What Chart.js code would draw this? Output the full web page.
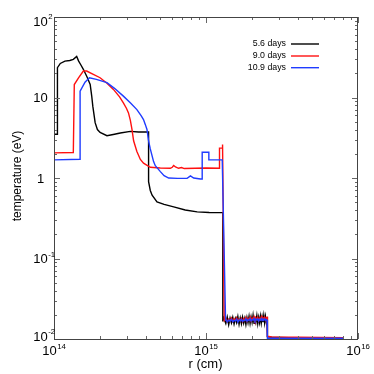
<!DOCTYPE html>
<html>
<head>
<meta charset="utf-8">
<script src="https://cdn.jsdelivr.net/npm/chart.js@4.4.0/dist/chart.umd.min.js"></script>
<style>body{margin:0;background:#fff}</style>
</head>
<body>
<canvas id="c" width="374" height="374"></canvas>
<script>
// temperature profiles (r in cm, T in eV)
const labels = ['5.6 days', '9.0 days', '10.9 days'];
const colors = ['#000000', '#ff1010', '#1f3cff'];

const blackR = [1.00e14, 1.047e14, 1.047e14, 1.06e14, 1.10e14, 1.18e14, 1.27e14, 1.34e14, 1.41e14, 1.45e14, 1.50e14, 1.56e14, 1.65e14, 1.73e14, 1.77e14, 1.80e14, 1.865e14, 1.93e14, 2.01e14, 2.23e14, 2.50e14, 2.73e14, 3.18e14, 3.60e14, 4.19e14, 4.19e14, 4.30e14, 4.42e14, 4.76e14, 5.30e14, 6.13e14, 7.30e14, 8.75e14, 1.05e15, 1.29e15, 1.29e15, 1.305e15];
const blackT = [3.5, 3.5, 21, 23.5, 26.5, 28.3, 28.8, 29.8, 32.3, 28.5, 25.5, 22.4, 18, 14.5, 10.5, 7.8, 4.87, 4.0, 3.68, 3.35, 3.5, 3.62, 3.79, 3.72, 3.73, 0.90, 0.70, 0.61, 0.506, 0.47, 0.438, 0.40, 0.379, 0.373, 0.372, 0.0165, 0.0185];
const blackTailR = [2.535e15, 2.535e15, 2.70e15, 3.5e15, 8.08e15];
const blackTailT = [0.0178, 0.0107, 0.0105, 0.0104, 0.0104];

const redR = [1.00e14, 1.34e14, 1.36e14, 1.45e14, 1.56e14, 1.64e14, 1.80e14, 2.01e14, 2.23e14, 2.46e14, 2.70e14, 2.86e14, 3.00e14, 3.09e14, 3.18e14, 3.26e14, 3.34e14, 3.51e14, 3.70e14, 3.88e14, 4.30e14, 5.00e14, 5.83e14, 6.00e14, 6.13e14, 6.30e14, 6.60e14, 6.90e14, 7.20e14, 8.50e14, 1.00e15, 1.227e15, 1.227e15, 1.275e15, 1.28e15, 1.29e15, 1.318e15];
const redT = [2.05, 2.07, 14.5, 17.5, 21.3, 21.3, 19.5, 17.6, 15.0, 12.6, 10.2, 8.59, 7.3, 6.44, 5.2, 3.98, 2.9, 2.13, 1.70, 1.53, 1.36, 1.33, 1.32, 1.36, 1.43, 1.37, 1.32, 1.35, 1.31, 1.32, 1.33, 1.32, 2.35, 2.35, 2.6, 2.6, 0.0175];
const redTailR = [2.535e15, 2.535e15, 2.70e15, 4.0e15, 8.08e15];
const redTailT = [0.0190, 0.0108, 0.0106, 0.0105, 0.0104];

const blueR = [1.00e14, 1.485e14, 1.485e14, 1.60e14, 1.71e14, 1.90e14, 2.23e14, 2.50e14, 2.86e14, 3.20e14, 3.51e14, 3.75e14, 3.88e14, 3.99e14, 4.09e14, 4.19e14, 4.30e14, 4.52e14, 4.64e14, 5.01e14, 5.30e14, 5.68e14, 6.50e14, 7.51e14, 7.90e14, 8.30e14, 9.20e14, 9.44e14, 9.44e14, 1.044e15, 1.044e15, 1.279e15, 1.345e15];
const blueT = [1.68, 1.71, 12.0, 15.5, 17.6, 16.8, 15.3, 13.0, 10.4, 8.5, 7.08, 5.9, 5.31, 4.6, 4.0, 2.9, 2.3, 1.6, 1.42, 1.2, 1.07, 1.0, 0.99, 0.99, 1.06, 1.0, 0.97, 0.97, 2.09, 2.09, 1.68, 1.68, 0.0172];
const blueTailR = [2.535e15, 2.535e15, 8.08e15];
const blueTailT = [0.0172, 0.0102, 0.0102];

// the noisy cold shell between ~1.3e15 and 2.5e15
const bandR = [1.32e15, 1.35e15, 1.38e15, 1.41e15, 1.44e15, 1.47e15, 1.50e15, 1.53e15, 1.56e15, 1.59e15, 1.62e15, 1.65e15, 1.68e15, 1.71e15, 1.74e15, 1.77e15, 1.80e15, 1.83e15, 1.86e15, 1.89e15, 1.92e15, 1.95e15, 1.98e15, 2.01e15, 2.04e15, 2.07e15, 2.10e15, 2.13e15, 2.16e15, 2.19e15, 2.22e15, 2.25e15, 2.28e15, 2.31e15, 2.34e15, 2.37e15, 2.40e15, 2.43e15, 2.46e15, 2.49e15, 2.52e15];
const blackBand = [0.0175, 0.0156, 0.0188, 0.0150, 0.0182, 0.0158, 0.0186, 0.0153, 0.0180, 0.0160, 0.0190, 0.0152, 0.0183, 0.0155, 0.0187, 0.0158, 0.0181, 0.0151, 0.0185, 0.0159, 0.0192, 0.0156, 0.0188, 0.0161, 0.0197, 0.0157, 0.0190, 0.0163, 0.0195, 0.0155, 0.0186, 0.0160, 0.0192, 0.0158, 0.0189, 0.0162, 0.0196, 0.0159, 0.0191, 0.0164, 0.0187];
const redBand = [0.0170, 0.0180, 0.0164, 0.0176, 0.0168, 0.0182, 0.0165, 0.0178, 0.0170, 0.0184, 0.0166, 0.0177, 0.0169, 0.0181, 0.0164, 0.0179, 0.0171, 0.0185, 0.0167, 0.0180, 0.0172, 0.0187, 0.0168, 0.0182, 0.0175, 0.0189, 0.0170, 0.0183, 0.0174, 0.0186, 0.0169, 0.0181, 0.0176, 0.0188, 0.0171, 0.0184, 0.0177, 0.0186, 0.0172, 0.0183, 0.0178];
const blueBand = [0.0168, 0.0175, 0.0163, 0.0172, 0.0166, 0.0176, 0.0164, 0.0171, 0.0167, 0.0177, 0.0162, 0.0173, 0.0168, 0.0176, 0.0165, 0.0172, 0.0169, 0.0178, 0.0166, 0.0174, 0.0170, 0.0179, 0.0167, 0.0175, 0.0171, 0.0180, 0.0168, 0.0176, 0.0172, 0.0178, 0.0167, 0.0175, 0.0171, 0.0179, 0.0169, 0.0176, 0.0173, 0.0178, 0.0170, 0.0175, 0.0172];

// tick labels
const xTicks = [1e14, 1e15, 1e16];
const xTickExp = ['14', '15', '16'];
const yTicks = [1e-2, 1e-1, 1, 10, 100];
const yTickBase = ['10', '10', '1', '10', '10'];
const yTickExp = ['-2', '-1', '', '', '2'];

function build(hr, ht, band, tr, tt) {
  const pts = hr.map((r, i) => ({x: r, y: ht[i]}));
  const last = hr[hr.length - 1];
  bandR.forEach((r, i) => { if (r > last) pts.push({x: r, y: band[i]}); });
  tr.forEach((r, i) => pts.push({x: r, y: tt[i]}));
  return pts;
}

const series = [
  build(blackR, blackT, blackBand, blackTailR, blackTailT),
  build(redR, redT, redBand, redTailR, redTailT),
  build(blueR, blueT, blueBand, blueTailR, blueTailT)
];

const FONT = '"Liberation Sans", Arial, Helvetica, sans-serif';
const BIG = '13px ' + FONT;
const SUP = '7.8px ' + FONT;

const frame = {
  id: 'frame',
  afterDraw(chart) {
    const {ctx, chartArea: a, scales: {x, y}} = chart;
    ctx.save();
    // ticks, inside on all four sides
    ctx.strokeStyle = '#666';
    ctx.lineWidth = 1;
    ctx.beginPath();
    for (let d = 14; d <= 16; d++) {
      for (let m = 1; m <= 9; m++) {
        const v = m * Math.pow(10, d);
        if (v > 1e16) break;
        const px = Math.round(x.getPixelForValue(v)) + 0.5;
        const len = m === 1 ? 6 : 3;
        ctx.moveTo(px, a.bottom); ctx.lineTo(px, a.bottom - len);
        ctx.moveTo(px, a.top); ctx.lineTo(px, a.top + len);
      }
    }
    for (let d = -2; d <= 2; d++) {
      for (let m = 1; m <= 9; m++) {
        const v = m * Math.pow(10, d);
        if (v > 100) break;
        const py = Math.round(y.getPixelForValue(v)) + 0.5;
        const len = m === 1 ? 6 : 3;
        ctx.moveTo(a.left, py); ctx.lineTo(a.left + len, py);
        ctx.moveTo(a.right, py); ctx.lineTo(a.right - len, py);
      }
    }
    ctx.stroke();
    ctx.strokeStyle = '#444';
    ctx.strokeRect(a.left + 0.5, a.top + 0.5, a.right - a.left - 1, a.bottom - a.top);

    // tick labels
    ctx.fillStyle = '#000';
    ctx.textBaseline = 'alphabetic';
    ctx.textAlign = 'left';
    xTicks.forEach((v, i) => {
      const cx = x.getPixelForValue(v);
      ctx.font = BIG;
      const wb = ctx.measureText('10').width;
      ctx.font = SUP;
      const we = ctx.measureText(xTickExp[i]).width + 0.5;
      const left = cx - (wb + we) / 2;
      ctx.font = BIG;
      ctx.fillText('10', left, 355);
      ctx.font = SUP;
      ctx.fillText(xTickExp[i], left + wb + 0.5, 348.5);
    });
    yTicks.forEach((v, i) => {
      // labels at the ends of the axis sit a little inside it
      const shift = i === yTicks.length - 1 ? 8.5 : (i === 0 ? 1.5 : 4.5);
      const base = y.getPixelForValue(v) + shift;
      ctx.font = BIG;
      const wb = ctx.measureText(yTickBase[i]).width;
      const left = 40.5 - wb / 2;
      ctx.fillText(yTickBase[i], left, base);
      if (yTickExp[i]) {
        ctx.font = SUP;
        ctx.fillText(yTickExp[i], left + wb + 0.5, base - 6.5);
      }
    });

    // axis titles
    ctx.font = BIG;
    ctx.textAlign = 'center';
    ctx.fillText('r (cm)', 205.5, 368);
    ctx.save();
    ctx.translate(18, 176);
    ctx.rotate(-Math.PI / 2);
    ctx.textBaseline = 'middle';
    ctx.font = '12px ' + FONT;
    ctx.fillText('temperature (eV)', 0, 0);
    ctx.restore();

    // legend: text then line
    const rows = [44, 56, 67.7];
    ctx.font = '8.8px ' + FONT;
    ctx.textAlign = 'right';
    ctx.textBaseline = 'middle';
    labels.forEach((lab, i) => {
      ctx.fillStyle = '#000';
      ctx.fillText(lab, 286, rows[i]);
      ctx.strokeStyle = colors[i];
      ctx.lineWidth = 1.4;
      ctx.beginPath();
      ctx.moveTo(291, rows[i]);
      ctx.lineTo(319, rows[i]);
      ctx.stroke();
    });
    ctx.restore();
  }
};

new Chart(document.getElementById('c'), {
  type: 'line',
  data: {
    datasets: series.map((pts, i) => ({
      label: labels[i],
      data: pts,
      borderColor: colors[i],
      borderWidth: 1.4,
      pointRadius: 0,
      tension: 0,
      fill: false,
      order: 3 - i
    }))
  },
  options: {
    responsive: false,
    animation: false,
    layout: {padding: {left: 54, right: 16, top: 17, bottom: 35}},
    plugins: {legend: {display: false}, tooltip: {enabled: false}},
    scales: {
      x: {type: 'logarithmic', min: 1e14, max: 1e16, display: false},
      y: {type: 'logarithmic', min: 1e-2, max: 1e2, display: false}
    }
  },
  plugins: [frame]
});
</script>
</body>
</html>
